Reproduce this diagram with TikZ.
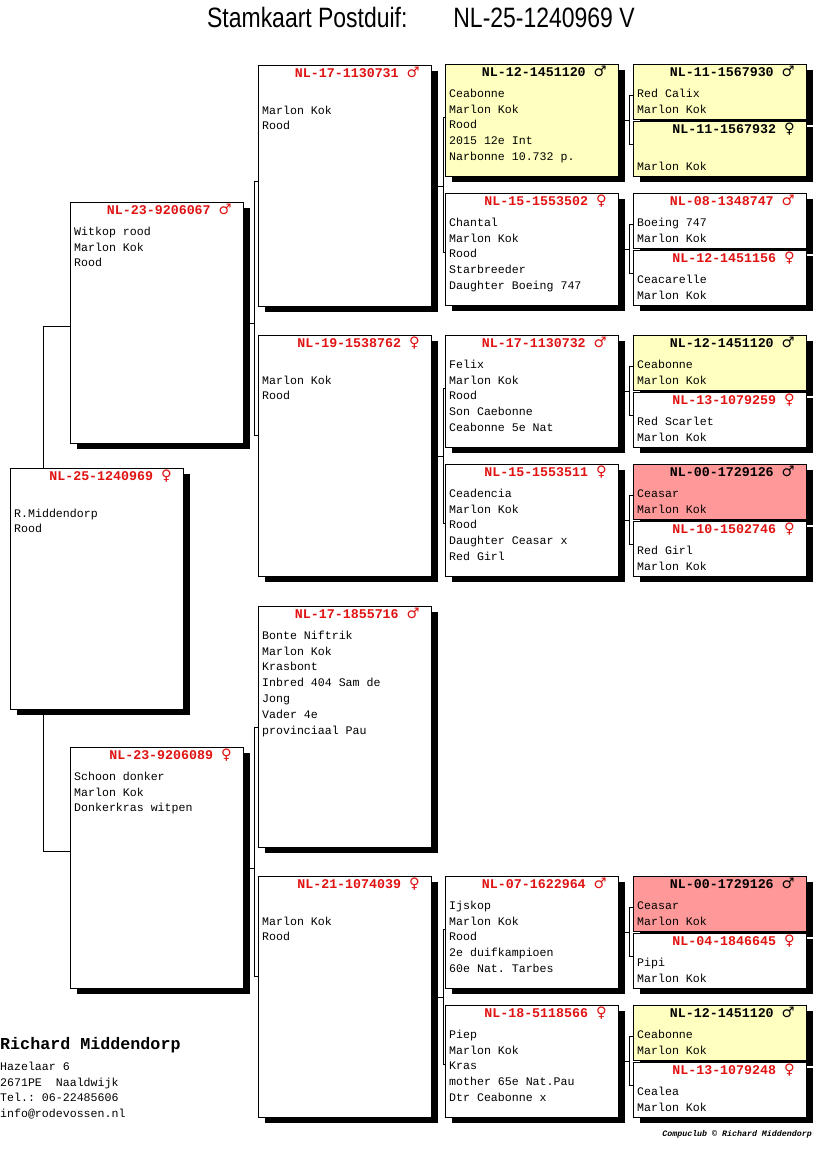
\documentclass[tikz,border=0pt]{standalone}
\usepackage{fontspec}
\setmainfont{Liberation Sans}
\setmonofont{Liberation Mono}
\newfontfamily\symfont{DejaVu Sans}
\usepackage{tikz}
\usetikzlibrary{shadows,backgrounds}

\definecolor{idrood}{RGB}{224,18,18}
\definecolor{geel}{RGB}{255,255,192}
\definecolor{roze}{RGB}{255,153,153}

\newcommand{\monospatie}{\fontdimen2\font=0.6em\fontdimen3\font=0pt\fontdimen4\font=0pt}
\newcommand{\doffer}{{\symfont\fontsize{14.5}{15}\selectfont ♂}}
\newcommand{\duivin}{{\symfont\fontsize{14.5}{15}\selectfont ♀}}

\tikzstyle{kaart} = [rectangle, draw = black, line width=0.9pt, fill = white, minimum width = 173pt, inner sep=0pt, anchor=north west, drop shadow={shadow xshift=6.5pt, shadow yshift=-6pt, fill=black, opacity=1}]
\tikzstyle{groot} = [minimum height=241pt]
\tikzstyle{middel} = [minimum height=112pt]
\tikzstyle{klein} = [minimum height=55pt]
\tikzstyle{kop} = [font=\fontsize{13.3}{15}\selectfont\ttfamily\bfseries\monospatie, inner sep=0pt, anchor=base east]
\tikzstyle{tekst} = [font=\fontsize{11.6}{15.8}\selectfont\ttfamily\monospatie, text width=165pt, align=flush left, inner sep=0pt, anchor=north west]
\tikzstyle{lijn} = [line width=0.9pt]

% #1 naam, #2 plaats, #3 stijl, #4 kleur ring, #5 ring, #6 regels
\newcommand{\duif}[6]{
	\node (#1) [kaart, #3] at #2 {};
	\node (#1-kop) [kop, text=#4] at ([xshift=-12pt, yshift=-12.5pt]#1.north east) {#5};
	\node (#1-tekst) [tekst] at ([xshift=4pt, yshift=-22pt]#1.north west) {\spaceskip=0pt\xspaceskip=0pt\strut #6};
}

\begin{document}
\begin{tikzpicture}[x=1pt, y=-1pt]
	\useasboundingbox (0,0) rectangle (816,1172);
	\node (titel) [anchor=base west, xscale=0.82, inner sep=0pt, font=\fontsize{28}{30}\selectfont] at (207,28) {Stamkaart Postduif:\hspace{56pt}NL-25-1240969 V};

	\duif{duif}{(10,468)}{groot}{idrood}{NL-25-1240969 \duivin}{\\R.Middendorp\\Rood}

	\duif{vader}{(70,202)}{groot}{idrood}{NL-23-9206067 \doffer}{Witkop rood\\Marlon Kok\\Rood}
	\duif{moeder}{(70,747)}{groot}{idrood}{NL-23-9206089 \duivin}{Schoon donker\\Marlon Kok\\Donkerkras witpen}

	\duif{vv}{(258,65)}{groot}{idrood}{NL-17-1130731 \doffer}{\\Marlon Kok\\Rood}
	\duif{vm}{(258,335)}{groot}{idrood}{NL-19-1538762 \duivin}{\\Marlon Kok\\Rood}
	\duif{mv}{(258,606)}{groot}{idrood}{NL-17-1855716 \doffer}{Bonte Niftrik\\Marlon Kok\\Krasbont\\Inbred 404 Sam de\\Jong\\Vader 4e\\provinciaal Pau}
	\duif{mm}{(258,876)}{groot}{idrood}{NL-21-1074039 \duivin}{\\Marlon Kok\\Rood}

	\duif{vvv}{(445,64)}{middel, fill=geel}{black}{NL-12-1451120 \doffer}{Ceabonne\\Marlon Kok\\Rood\\2015 12e Int\\Narbonne 10.732 p.}
	\duif{vvm}{(445,193)}{middel}{idrood}{NL-15-1553502 \duivin}{Chantal\\Marlon Kok\\Rood\\Starbreeder\\Daughter Boeing 747}
	\duif{vmv}{(445,335)}{middel}{idrood}{NL-17-1130732 \doffer}{Felix\\Marlon Kok\\Rood\\Son Caebonne\\Ceabonne 5e Nat}
	\duif{vmm}{(445,464)}{middel}{idrood}{NL-15-1553511 \duivin}{Ceadencia\\Marlon Kok\\Rood\\Daughter Ceasar x\\Red Girl}
	\duif{mmv}{(445,876)}{middel}{idrood}{NL-07-1622964 \doffer}{Ijskop\\Marlon Kok\\Rood\\2e duifkampioen\\60e Nat. Tarbes}
	\duif{mmm}{(445,1005)}{middel}{idrood}{NL-18-5118566 \duivin}{Piep\\Marlon Kok\\Kras\\mother 65e Nat.Pau\\Dtr Ceabonne x}

	\duif{vvvv}{(633,64)}{klein, fill=geel}{black}{NL-11-1567930 \doffer}{Red Calix\\Marlon Kok}
	\duif{vvvm}{(633,121)}{klein, fill=geel}{black}{NL-11-1567932 \duivin}{\\Marlon Kok}
	\duif{vvmv}{(633,193)}{klein}{idrood}{NL-08-1348747 \doffer}{Boeing 747\\Marlon Kok}
	\duif{vvmm}{(633,250)}{klein}{idrood}{NL-12-1451156 \duivin}{Ceacarelle\\Marlon Kok}
	\duif{vmvv}{(633,335)}{klein, fill=geel}{black}{NL-12-1451120 \doffer}{Ceabonne\\Marlon Kok}
	\duif{vmvm}{(633,392)}{klein}{idrood}{NL-13-1079259 \duivin}{Red Scarlet\\Marlon Kok}
	\duif{vmmv}{(633,464)}{klein, fill=roze}{black}{NL-00-1729126 \doffer}{Ceasar\\Marlon Kok}
	\duif{vmmm}{(633,521)}{klein}{idrood}{NL-10-1502746 \duivin}{Red Girl\\Marlon Kok}
	\duif{mmvv}{(633,876)}{klein, fill=roze}{black}{NL-00-1729126 \doffer}{Ceasar\\Marlon Kok}
	\duif{mmvm}{(633,933)}{klein}{idrood}{NL-04-1846645 \duivin}{Pipi\\Marlon Kok}
	\duif{mmmv}{(633,1005)}{klein, fill=geel}{black}{NL-12-1451120 \doffer}{Ceabonne\\Marlon Kok}
	\duif{mmmm}{(633,1062)}{klein}{idrood}{NL-13-1079248 \duivin}{Cealea\\Marlon Kok}

	\begin{pgfonlayer}{background}
	\draw [lijn] ([yshift=-3.5pt]vader.west) -- ++(-27,0) |- ([yshift=16.5pt]moeder.west);
	\draw [lijn] (vader.east) -- ++(11,0);
	\draw [lijn] ([yshift=4.5pt]vv.west) -- ++(-4,0) |- ([yshift=20.5pt]vm.west);
	\draw [lijn] (moeder.east) -- ++(11,0);
	\draw [lijn] (mv.west) -- ++(-4,0) |- ([yshift=20.5pt]mm.west);
	\draw [lijn] (vv.east) -- ++(11,0);
	\draw [lijn] ([yshift=3pt]vvv.west) -- ++(-2,0) |- ([yshift=-3pt]vvm.west);
	\draw [lijn] (vm.east) -- ++(11,0);
	\draw [lijn] ([yshift=3pt]vmv.west) -- ++(-2,0) |- ([yshift=-3pt]vmm.west);
	\draw [lijn] (mm.east) -- ++(11,0);
	\draw [lijn] ([yshift=3pt]mmv.west) -- ++(-2,0) |- ([yshift=-3pt]mmm.west);
	\draw [lijn] (vvv.east) -- ++(11,0);
	\draw [lijn] ([yshift=-3.5pt]vvvv.west) -- ++(-4,0) |- ([yshift=4.5pt]vvvm.west);
	\draw [lijn] (vvm.east) -- ++(11,0);
	\draw [lijn] ([yshift=-3.5pt]vvmv.west) -- ++(-4,0) |- ([yshift=4.5pt]vvmm.west);
	\draw [lijn] (vmv.east) -- ++(11,0);
	\draw [lijn] ([yshift=-3.5pt]vmvv.west) -- ++(-4,0) |- ([yshift=4.5pt]vmvm.west);
	\draw [lijn] (vmm.east) -- ++(11,0);
	\draw [lijn] ([yshift=-3.5pt]vmmv.west) -- ++(-4,0) |- ([yshift=4.5pt]vmmm.west);
	\draw [lijn] (mmv.east) -- ++(11,0);
	\draw [lijn] ([yshift=-3.5pt]mmvv.west) -- ++(-4,0) |- ([yshift=4.5pt]mmvm.west);
	\draw [lijn] (mmm.east) -- ++(11,0);
	\draw [lijn] ([yshift=-3.5pt]mmmv.west) -- ++(-4,0) |- ([yshift=4.5pt]mmmm.west);
	\end{pgfonlayer}

	\node (eigenaar) [anchor=base west, inner sep=0pt, font=\fontsize{16.7}{18}\selectfont\ttfamily\bfseries\monospatie] at (0,1049) {Richard Middendorp};
	\node (adres) [tekst, text width=200pt] at (0,1059) {\spaceskip=0pt\xspaceskip=0pt\strut Hazelaar 6\\2671PE\ \ Naaldwijk\\Tel.: 06-22485606\\info@rodevossen.nl};
	\node (compuclub) [anchor=base east, inner sep=0pt, font=\fontsize{8.3}{10}\selectfont\ttfamily\bfseries\itshape\monospatie] at (812,1136) {Compuclub © Richard Middendorp};
\end{tikzpicture}
\end{document}
